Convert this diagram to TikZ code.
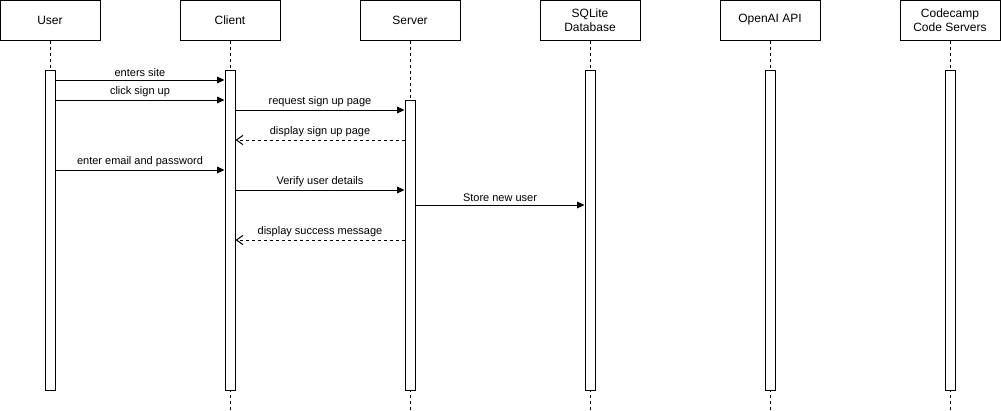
\documentclass[tikz,border=0pt]{standalone}
\usepackage{fontspec}
\setmainfont{Liberation Sans}
\usetikzlibrary{arrows.meta}
\tikzset{
  actor/.style={draw, line width=0.75pt, minimum width=75pt, minimum height=30pt, align=center, inner sep=0pt, font=\fontsize{9}{10.5}\selectfont},
  bar/.style={draw, fill=white, line width=0.75pt, minimum width=7.5pt, inner sep=0pt, anchor=north},
  life/.style={line width=0.75pt, dash pattern=on 2.25pt off 2.25pt},
  call/.style={line width=0.75pt, -{Triangle[length=5.5pt,width=5pt]}},
  reply/.style={line width=0.75pt, dash pattern=on 2.25pt off 2.25pt, -{Straight Barb[length=5pt,width=7pt]}},
  lbl/.style={above, font=\fontsize{8.25}{9}\selectfont, inner sep=1.5pt, yshift=0.75pt},
}
\begin{document}
\begin{tikzpicture}[x=0.75pt, y=-0.75pt]
\useasboundingbox (0,0) rectangle (1001,411);
\node[actor] (user) at (50,20) {User};
\node[actor] (client) at (230,20) {Client};
\node[actor] (server) at (410,20) {Server};
\node[actor] (db) at (590,20) {SQLite\\Database};
\node[actor] (openai) at (770,20) {OpenAI API};
\node[actor] (codecamp) at (950,20) {Codecamp\\Code Servers};
% lifelines
\draw[life] (user.south) -- (user |- 0,70);
\draw[life] (client.south) -- (client |- 0,411);
\draw[life] (server.south) -- (server |- 0,411);
\draw[life] (db.south) -- (db |- 0,411);
\draw[life] (openai.south) -- (openai |- 0,411);
\draw[life] (codecamp.south) -- (codecamp |- 0,411);
% activations
\node[bar, minimum height=240pt] (ubar) at (50,70) {};
\node[bar, minimum height=240pt] (cbar) at (230,70) {};
\node[bar, minimum height=217.5pt] (sbar) at (410,100) {};
\node[bar, minimum height=240pt] (dbar) at (590,70) {};
\node[bar, minimum height=240pt] (obar) at (770,70) {};
\node[bar, minimum height=240pt] (ccbar) at (950,70) {};
% messages
\draw[call] (ubar.east |- 0,80) to node[lbl]{enters site} (cbar.west |- 0,80);
\draw[call] (ubar.east |- 0,100) to node[lbl]{click sign up} (cbar.west |- 0,100);
\draw[call] (cbar.east |- 0,110) to node[lbl]{request sign up page} (sbar.west |- 0,110);
\draw[reply] (sbar.west |- 0,140) to node[lbl]{display sign up page} (cbar.east |- 0,140);
\draw[call] (ubar.east |- 0,170) to node[lbl]{enter email and password} (cbar.west |- 0,170);
\draw[call] (cbar.east |- 0,190) to node[lbl]{Verify user details} (sbar.west |- 0,190);
\draw[call] (sbar.east |- 0,205) to node[lbl]{Store new user} (dbar.west |- 0,205);
\draw[reply] (sbar.west |- 0,240) to node[lbl]{display success message} (cbar.east |- 0,240);
\end{tikzpicture}
\end{document}
